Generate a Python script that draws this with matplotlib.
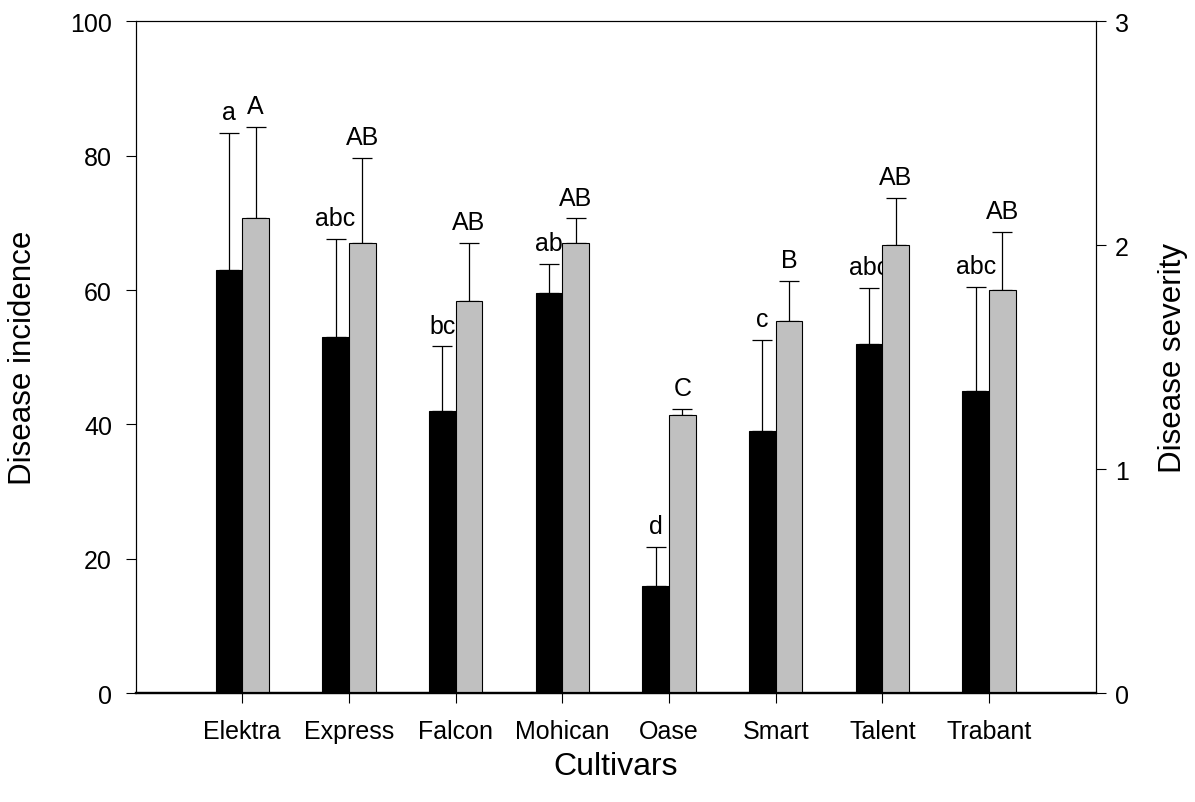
import matplotlib
matplotlib.use("Agg")
import matplotlib.pyplot as plt
import numpy as np

plt.rcParams['font.family'] = ['Liberation Sans', 'DejaVu Sans']

cultivars = ["Elektra", "Express", "Falcon", "Mohican", "Oase", "Smart", "Talent", "Trabant"]

# disease incidence (left axis) with upper error
incidence = [63.0, 53.0, 42.0, 59.5, 16.0, 39.0, 52.0, 45.0]
incidence_err = [20.4, 14.6, 9.6, 4.4, 5.8, 13.6, 8.3, 15.4]
incidence_letters = ["a", "abc", "bc", "ab", "d", "c", "abc", "abc"]

# disease severity (right axis) with upper error
severity = [2.12, 2.01, 1.75, 2.01, 1.24, 1.66, 2.00, 1.80]
severity_err = [0.41, 0.38, 0.26, 0.11, 0.03, 0.18, 0.21, 0.26]
severity_letters = ["A", "AB", "AB", "AB", "C", "B", "AB", "AB"]

fig = plt.figure(figsize=(11.95, 8.03), dpi=100)
ax = fig.add_axes([0.1134, 0.1357, 0.8035, 0.8364])
ax2 = ax.twinx()

x = np.arange(1, len(cultivars) + 1)
w = 0.25

ax.bar(x - w / 2, incidence, width=w, color="black", edgecolor="black", linewidth=0.8, zorder=2)
ax.errorbar(x - w / 2, incidence, yerr=[np.zeros(len(x)), incidence_err], fmt="none",
            ecolor="black", elinewidth=0.9, capsize=7.5, capthick=0.9, zorder=1)
for xi, v, e, lab in zip(x - w / 2, incidence, incidence_err, incidence_letters):
    ax.annotate(lab, (xi, v + e), xytext=(0, 10), textcoords="offset points",
                ha="center", va="baseline", fontsize=18)

ax2.bar(x + w / 2, severity, width=w, color="#c0c0c0", edgecolor="black", linewidth=0.8, zorder=2)
ax2.errorbar(x + w / 2, severity, yerr=[np.zeros(len(x)), severity_err], fmt="none",
             ecolor="black", elinewidth=0.9, capsize=7.5, capthick=0.9, zorder=1)
for xi, v, e, lab in zip(x + w / 2, severity, severity_err, severity_letters):
    ax2.annotate(lab, (xi, v + e), xytext=(0, 10), textcoords="offset points",
                 ha="center", va="baseline", fontsize=18)

ax.set_xlim(0, 9)
ax.set_ylim(0, 100)
ax2.set_ylim(0, 3)
ax.set_xticks(x)
ax.set_xticklabels(cultivars)
ax.set_yticks(np.arange(0, 101, 20))
ax2.set_yticks([0, 1, 2, 3])

ax.tick_params(axis="x", direction="out", length=7, width=0.8, pad=12, labelsize=18)
ax.tick_params(axis="y", direction="out", length=7, width=0.8, pad=10, labelsize=18)
ax2.tick_params(axis="y", direction="out", length=7, width=0.8, pad=7, labelsize=18)

for a in (ax, ax2):
    for s in a.spines.values():
        s.set_linewidth(0.8)
ax.spines["bottom"].set_linewidth(1.6)
ax2.spines["bottom"].set_linewidth(1.6)

ax.set_xlabel("Cultivars", fontsize=23)
ax.set_ylabel("Disease incidence", fontsize=22.5)
ax2.set_ylabel("Disease severity", fontsize=22.5, rotation=90)
ax.xaxis.label.set_verticalalignment("center")
ax.yaxis.label.set_verticalalignment("center")
ax2.yaxis.label.set_verticalalignment("center")
ax.xaxis.set_label_coords(0.5, -0.108)
ax.yaxis.set_label_coords(-0.117, 0.5)
ax2.yaxis.set_label_coords(1.0805, 0.5)

fig.savefig("out.png", dpi=100)
